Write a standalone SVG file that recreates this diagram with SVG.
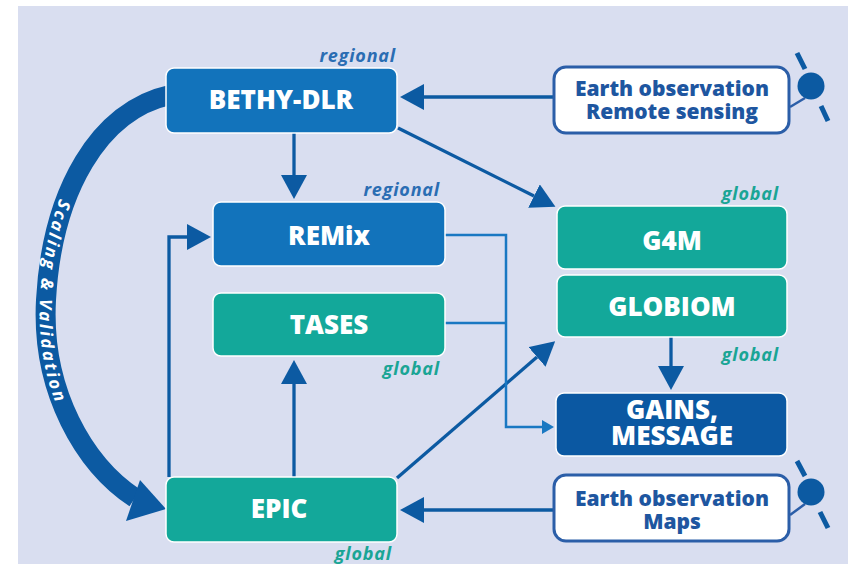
<svg xmlns="http://www.w3.org/2000/svg" width="848" height="564" viewBox="0 0 848 564">
<defs>
<style>
.bg{fill:#d9def0}
.box{stroke:#ffffff;stroke-width:1.5}
.blue{fill:#1273bb}
.teal{fill:#13a89a}
.dark{fill:#0b58a2}
.eo{fill:#ffffff;stroke:#2b5ea8;stroke-width:3}
.lbl{font-family:"Open Sans","Noto Sans",sans-serif;font-weight:800;font-size:26px;fill:#ffffff;text-anchor:middle}
.eot{font-family:"Open Sans","Noto Sans",sans-serif;font-weight:800;font-size:21px;fill:#1e56a0;text-anchor:middle}
.tag{font-family:"Open Sans","Noto Sans",sans-serif;font-weight:700;font-style:italic;font-size:18px;text-anchor:end;letter-spacing:0.8px}
.reg{fill:#2a6db3}
.glo{fill:#1aa595}
.ln{fill:none;stroke:#0c5aa2;stroke-width:3.3}
.thin{fill:none;stroke:#1a78c2;stroke-width:2.5}
.sat{fill:none;stroke:#0c5aa2;stroke-width:5}
.satl{fill:none;stroke:#2b5ea8;stroke-width:2.5}
</style>
<marker id="ah" viewBox="0 0 24 26" refX="0" refY="13" markerWidth="24" markerHeight="26" markerUnits="userSpaceOnUse" orient="auto">
<path d="M0,0 L24,13 L0,26 Z" fill="#0c5aa2"/>
</marker>
<marker id="ahs" viewBox="0 0 12 14" refX="0" refY="7" markerWidth="12" markerHeight="14" markerUnits="userSpaceOnUse" orient="auto">
<path d="M0,0 L12,7 L0,14 Z" fill="#1a78c2"/>
</marker>
<path id="curve" d="M 170 95 C 100 110, 52 190, 46 300 C 41 392, 85 465, 135 498"/>
</defs>
<rect x="0" y="0" width="848" height="564" fill="#ffffff"/>
<rect class="bg" x="18" y="6" width="830" height="558"/>

<g id="connectors">
<use href="#curve" fill="none" stroke="#0c5aa2" stroke-width="20"/>
<polygon points="166,509 126,521 140,480" fill="#0c5aa2"/>
<text font-family="'Open Sans','Noto Sans',sans-serif" font-weight="700" font-style="italic" font-size="17" fill="#ffffff" dy="6"><textPath href="#curve" startOffset="155" textLength="204" lengthAdjust="spacing">Scaling &amp; Validation</textPath></text>
<line class="ln" x1="294" y1="133" x2="294" y2="175" marker-end="url(#ah)"/>
<line class="ln" x1="294" y1="477" x2="294" y2="384" marker-end="url(#ah)"/>
<line class="ln" x1="554" y1="97" x2="424" y2="97" marker-end="url(#ah)"/>
<line class="ln" x1="554" y1="510" x2="424" y2="510" marker-end="url(#ah)"/>
<line class="ln" x1="671" y1="337" x2="671" y2="366" marker-end="url(#ah)"/>
<polyline class="ln" points="169,477 169,237 187,237" marker-end="url(#ah)"/>
<line class="ln" x1="398" y1="128" x2="534" y2="196" marker-end="url(#ah)"/>
<line class="ln" x1="397" y1="478" x2="537" y2="357" marker-end="url(#ah)"/>
<polyline class="thin" points="445,235 506,235 506,427 542,427" marker-end="url(#ahs)"/>
<line class="thin" x1="445" y1="323" x2="506" y2="323"/>
</g>

<g id="bethy">
<rect class="box blue" x="166" y="68" width="231" height="65" rx="8"/>
<text class="lbl" x="281" y="109">BETHY-DLR</text>
<text class="tag reg" x="396" y="62">regional</text>
</g>

<g id="remix">
<rect class="box blue" x="213" y="202" width="232" height="64" rx="8"/>
<text class="lbl" x="329" y="245">REMix</text>
<text class="tag reg" x="440" y="196">regional</text>
</g>

<g id="tases">
<rect class="box teal" x="213" y="293" width="232" height="63" rx="8"/>
<text class="lbl" x="329" y="334">TASES</text>
<text class="tag glo" x="440" y="375">global</text>
</g>

<g id="epic">
<rect class="box teal" x="166" y="477" width="231" height="65" rx="8"/>
<text class="lbl" x="279" y="518">EPIC</text>
<text class="tag glo" x="392" y="560">global</text>
</g>

<g id="g4m">
<rect class="box teal" x="557" y="206" width="230" height="63" rx="8"/>
<text class="lbl" x="672" y="250">G4M</text>
<text class="tag glo" x="779" y="200">global</text>
</g>

<g id="globiom">
<rect class="box teal" x="557" y="275" width="230" height="62" rx="8"/>
<text class="lbl" x="672" y="316">GLOBIOM</text>
<text class="tag glo" x="779" y="361">global</text>
</g>

<g id="gains">
<rect class="box dark" x="556" y="393" width="231" height="63" rx="8"/>
<text class="lbl" x="672" y="419"><tspan x="672" y="419">GAINS,</tspan><tspan x="672" y="445">MESSAGE</tspan></text>
</g>

<g id="eo-rs">
<rect class="eo" x="554" y="67" width="235" height="66" rx="12"/>
<text class="eot" x="672" y="96"><tspan x="672" y="96">Earth observation</tspan><tspan x="672" y="119">Remote sensing</tspan></text>
<line class="satl" x1="790" y1="107" x2="805" y2="98"/>
<circle cx="811" cy="86" r="13.5" fill="#0c5aa2"/>
<line class="sat" x1="797" y1="53" x2="805" y2="69"/>
<line class="sat" x1="821" y1="106" x2="828" y2="121"/>
</g>

<g id="eo-maps">
<rect class="eo" x="554" y="475" width="235" height="66" rx="12"/>
<text class="eot" x="672" y="506"><tspan x="672" y="506">Earth observation</tspan><tspan x="672" y="529">Maps</tspan></text>
<line class="satl" x1="790" y1="515" x2="805" y2="504"/>
<circle cx="811" cy="492" r="13.5" fill="#0c5aa2"/>
<line class="sat" x1="797" y1="461" x2="805" y2="476"/>
<line class="sat" x1="820" y1="512" x2="828" y2="528"/>
</g>
</svg>
